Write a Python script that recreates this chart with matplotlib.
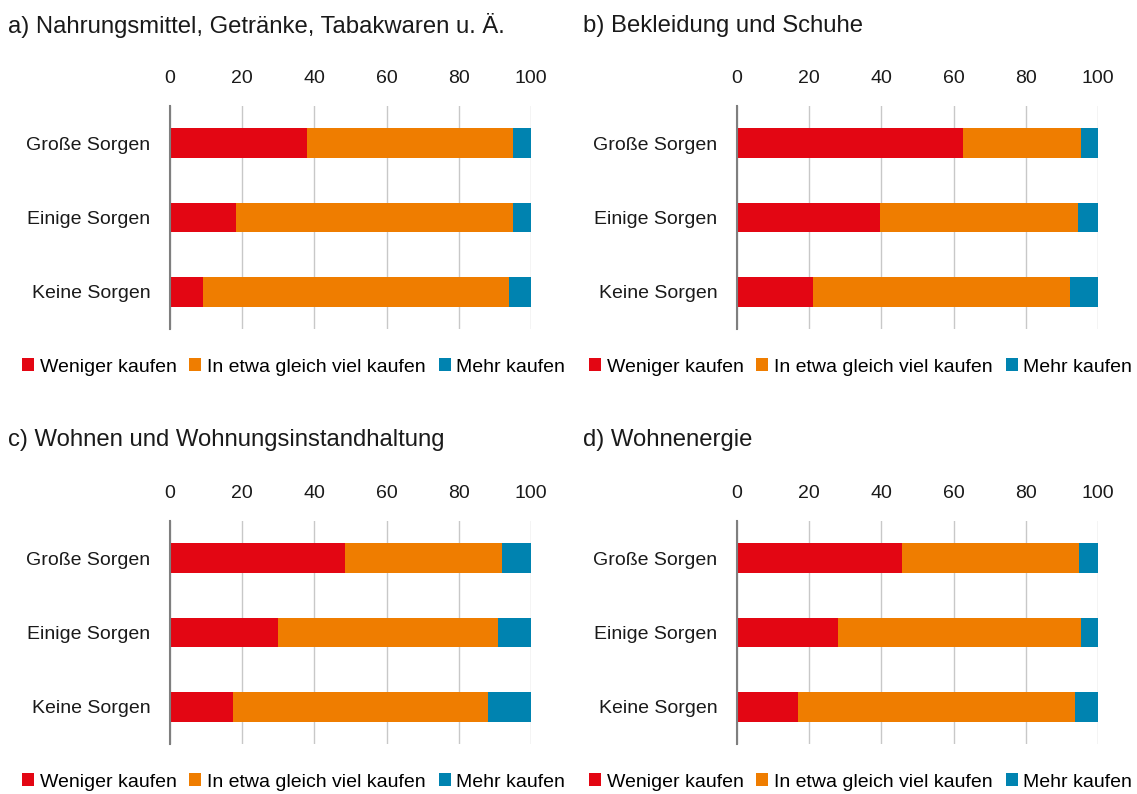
import matplotlib.pyplot as plt
from matplotlib.patches import Patch

# Anteile in Prozent, Reihenfolge: Große, Einige, Keine Sorgen
categories = ["Große Sorgen", "Einige Sorgen", "Keine Sorgen"]
series_names = ["Weniger kaufen", "In etwa gleich viel kaufen", "Mehr kaufen"]
colors = ["#E30613", "#EF7D00", "#0083B0"]

titles = [
    "a) Nahrungsmittel, Getränke, Tabakwaren u. Ä.",
    "b) Bekleidung und Schuhe",
    "c) Wohnen und Wohnungsinstandhaltung",
    "d) Wohnenergie",
]

weniger_a = [37.9, 18.3, 9.2]
gleich_a = [57.2, 76.6, 84.7]
mehr_a = [4.9, 5.1, 6.1]

weniger_b = [62.5, 39.6, 21.1]
gleich_b = [32.9, 54.8, 71.1]
mehr_b = [4.6, 5.6, 7.8]

weniger_c = [48.5, 30.0, 17.5]
gleich_c = [43.6, 60.9, 70.6]
mehr_c = [7.9, 9.1, 11.9]

weniger_d = [45.7, 28.0, 17.0]
gleich_d = [49.0, 67.2, 76.7]
mehr_d = [5.3, 4.8, 6.3]

panels = [
    (weniger_a, gleich_a, mehr_a),
    (weniger_b, gleich_b, mehr_b),
    (weniger_c, gleich_c, mehr_c),
    (weniger_d, gleich_d, mehr_d),
]

narrow = ["Liberation Sans Narrow", "Liberation Sans", "DejaVu Sans"]
regular = ["Liberation Sans", "DejaVu Sans"]

W, H = 1137, 794
fig = plt.figure(figsize=(W / 100, H / 100), dpi=100)

# (axes left px, axes top px, title x px, title y px, legend x px, legend y px)
layout = [
    (170, 106, 8, 26, 22, 367),
    (737, 106, 583, 26, 589, 367),
    (170, 521, 8, 440, 22, 782),
    (737, 521, 583, 440, 589, 782),
]
ax_w, ax_h = 361, 223

for (left, top, tx, ty, lx, ly), title, values in zip(layout, titles, panels):
    ax = fig.add_axes([left / W, 1 - (top + ax_h) / H, ax_w / W, ax_h / H])
    y = range(len(categories))
    start = [0] * len(categories)
    for vals, col in zip(values, colors):
        ax.barh(y, vals, left=start, height=0.4, color=col, edgecolor="none", zorder=3)
        start = [s + v for s, v in zip(start, vals)]
    ax.set_xlim(0, 100)
    ax.set_ylim(2.5, -0.5)
    ax.set_xticks(range(0, 101, 20))
    ax.set_yticks(list(y))
    ax.set_yticklabels(categories, family=narrow, fontsize=14)
    ax.xaxis.tick_top()
    for lab in ax.get_xticklabels():
        lab.set_family(narrow)
        lab.set_fontsize(14)
    ax.tick_params(length=0, pad=14, colors="#1a1a1a")
    ax.tick_params(axis="y", pad=14)
    ax.grid(axis="x", color="#c8c8c8", linewidth=1, zorder=0)
    for s in ["top", "right", "bottom"]:
        ax.spines[s].set_visible(False)
    ax.spines["left"].set_color("#7f7f7f")
    ax.spines["left"].set_linewidth(1.5)
    ax.spines["left"].set_zorder(4)

    fig.text(tx / W, 1 - ty / H, title, family=regular, fontsize=17.2,
             va="center", ha="left", color="#1a1a1a")

    handles = [Patch(facecolor=c, edgecolor="none") for c in colors]
    fig.legend(handles, series_names, loc="center left",
               bbox_to_anchor=(lx / W, 1 - ly / H),
               ncol=3, frameon=False, prop={"family": narrow, "size": 14},
               handlelength=0.62, handleheight=0.62, handletextpad=0.3,
               columnspacing=0.65, borderaxespad=0, borderpad=0)

fig.savefig("out.png", dpi=100)
